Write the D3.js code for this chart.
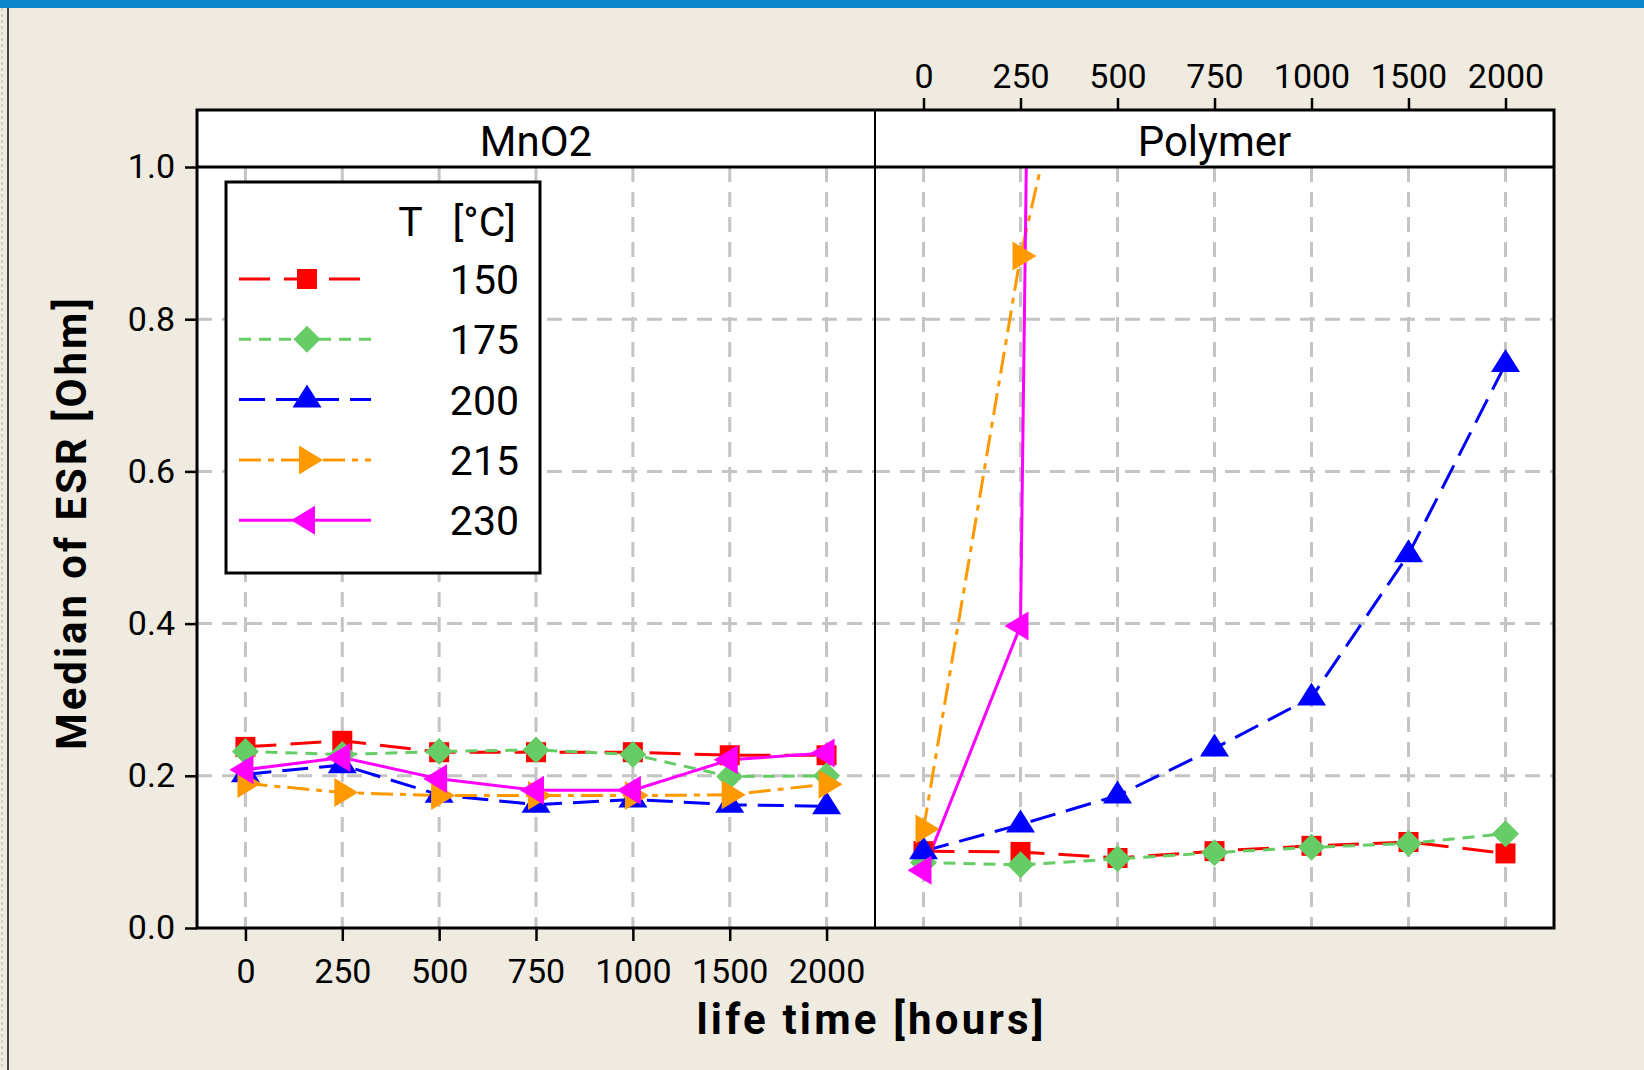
<html>
<head>
<script src="https://cdn.jsdelivr.net/npm/d3@7"></script>
<style>
  body { margin: 0; background: #efebe0; }
  text { font-family: Roboto, "Noto Sans", sans-serif; fill: #000; }
</style>
</head>
<body>
<svg id="chart" width="1644" height="1070"></svg>
<script>
// categories (hours) and temperatures
var hours = ['0', '250', '500', '750', '1000', '1500', '2000'];
var temps = ['150', '175', '200', '215', '230'];
var yTicks = [0, 0.2, 0.4, 0.6, 0.8, 1.0];

// median ESR, MnO2 panel
var mno2_150 = [0.238, 0.246, 0.231, 0.231, 0.231, 0.227, 0.227];
var mno2_175 = [0.232, 0.228, 0.232, 0.234, 0.228, 0.199, 0.200];
var mno2_200 = [0.202, 0.214, 0.175, 0.162, 0.169, 0.162, 0.160];
var mno2_215 = [0.190, 0.178, 0.174, 0.174, 0.174, 0.175, 0.189];
var mno2_230 = [0.208, 0.224, 0.196, 0.181, 0.181, 0.221, 0.230];

// median ESR, Polymer panel (215 / 230 run off the top)
var poly_150 = [0.101, 0.100, 0.092, 0.101, 0.108, 0.113, 0.098];
var poly_175 = [0.086, 0.083, 0.091, 0.099, 0.106, 0.111, 0.124];
var poly_200 = [0.101, 0.136, 0.174, 0.236, 0.303, 0.491, 0.741];
var poly_215 = [0.130, 0.883, 1.44, null, null, null, null];
var poly_230 = [0.076, 0.397, 10.5, null, null, null, null];

var colors = ['#ff0000', '#66cc66', '#0000ff', '#ff9900', '#ff00ff'];
var dashes = ['31,14', '12,8', '26,11', '22,7,6,7', null];

var svg = d3.select('#chart');

// page decoration
svg.append('rect').attr('x', 0).attr('y', 0).attr('width', 1644).attr('height', 1070).attr('fill', '#efebe0');
svg.append('rect').attr('x', 0).attr('y', 0).attr('width', 1644).attr('height', 8).attr('fill', '#0a86cf');
svg.append('line').attr('x1', 8).attr('x2', 8).attr('y1', 8).attr('y2', 1070)
    .attr('stroke', '#444').attr('stroke-width', 2);
svg.append('line').attr('x1', 2).attr('x2', 2).attr('y1', 8).attr('y2', 1070)
    .attr('stroke', '#d4d0c8').attr('stroke-width', 2).attr('stroke-dasharray', '3,3');

var pLeft = 197, pMid = 875, pRight = 1554;
var stripTop = 110, pTop = 167, pBottom = 928;

var y = d3.scaleLinear().domain([0, 1]).range([pBottom, pTop]);
var xMn = d3.scalePoint().domain(hours).range([pLeft, pMid]).padding(0.5);
var xPo = d3.scalePoint().domain(hours).range([pMid, pRight]).padding(0.5);

// white plot background + strips
svg.append('rect').attr('x', pLeft).attr('y', stripTop).attr('width', pRight - pLeft).attr('height', pBottom - stripTop).attr('fill', '#fff');

var panels = [
    { name: 'MnO2', x: xMn, x0: pLeft, x1: pMid, series: [mno2_150, mno2_175, mno2_200, mno2_215, mno2_230] },
    { name: 'Polymer', x: xPo, x0: pMid, x1: pRight, series: [poly_150, poly_175, poly_200, poly_215, poly_230] }
];

// grid
panels.forEach(p => {
    svg.append('g').selectAll('line').data(hours).enter().append('line')
        .attr('x1', d => p.x(d)).attr('x2', d => p.x(d))
        .attr('y1', pTop).attr('y2', pBottom)
        .attr('stroke', '#c4c4c4').attr('stroke-width', 3).attr('stroke-dasharray', '15,10');
    svg.append('g').selectAll('line').data(yTicks.slice(1, 5)).enter().append('line')
        .attr('x1', p.x0).attr('x2', p.x1)
        .attr('y1', d => y(d)).attr('y2', d => y(d))
        .attr('stroke', '#c4c4c4').attr('stroke-width', 3).attr('stroke-dasharray', '15,10');
});

// marker shapes
var shapes = [
    'M-10,-10H10V10H-10Z',
    'M0,-13.5L13.5,0L0,13.5L-13.5,0Z',
    'M0,-15L14.5,8L-14.5,8Z',
    'M16,0L-8,-14.5L-8,14.5Z',
    'M-16,0L8,-14.5L8,14.5Z'
];

panels.forEach((p, pi) => {
    svg.append('clipPath').attr('id', 'clip' + pi).append('rect')
        .attr('x', p.x0).attr('y', pTop).attr('width', p.x1 - p.x0).attr('height', pBottom - pTop);
    var g = svg.append('g').attr('clip-path', 'url(#clip' + pi + ')');
    p.series.forEach((s, si) => {
        var pts = s.map((v, i) => ({ h: hours[i], v: v }));
        var line = d3.line().defined(d => d.v != null).x(d => p.x(d.h)).y(d => y(d.v));
        g.append('path').attr('d', line(pts)).attr('fill', 'none')
            .attr('stroke', colors[si]).attr('stroke-width', 3)
            .attr('stroke-dasharray', dashes[si]);
    });
    p.series.forEach((s, si) => {
        var pts = s.map((v, i) => ({ h: hours[i], v: v })).filter(d => d.v != null && d.v <= 1);
        g.selectAll('.m' + si).data(pts).enter().append('path')
            .attr('transform', d => 'translate(' + p.x(d.h) + ',' + y(d.v) + ')')
            .attr('d', shapes[si]).attr('fill', colors[si]);
    });
});

// frame
svg.append('rect').attr('x', pLeft).attr('y', stripTop).attr('width', pRight - pLeft).attr('height', pBottom - stripTop)
    .attr('fill', 'none').attr('stroke', '#000').attr('stroke-width', 3);
svg.append('line').attr('x1', pLeft).attr('x2', pRight).attr('y1', pTop).attr('y2', pTop).attr('stroke', '#000').attr('stroke-width', 3);
svg.append('line').attr('x1', pMid).attr('x2', pMid).attr('y1', stripTop).attr('y2', pBottom).attr('stroke', '#000').attr('stroke-width', 2);

panels.forEach(p => {
    svg.append('text').attr('x', (p.x0 + p.x1) / 2).attr('y', 156)
        .attr('text-anchor', 'middle').style('font-size', '42px').text(p.name);
});

// axes
var yAxis = svg.append('g').attr('transform', 'translate(' + pLeft + ',0)')
    .call(d3.axisLeft(y).tickValues(yTicks).tickFormat(d3.format('.1f')).tickSize(12).tickPadding(10));
var xAxisB = svg.append('g').attr('transform', 'translate(0,' + pBottom + ')')
    .call(d3.axisBottom(xMn).tickSize(13).tickPadding(18));
var xAxisT = svg.append('g').attr('transform', 'translate(0,' + stripTop + ')')
    .call(d3.axisTop(xPo).tickSize(12).tickPadding(10));
[yAxis, xAxisB, xAxisT].forEach(a => {
    a.select('.domain').remove();
    a.selectAll('line').attr('stroke', '#000').attr('stroke-width', 2.5);
    a.selectAll('text').style('font-size', '34px').attr('font-family', null).attr('fill', '#000');
});

// axis titles
svg.append('text').attr('x', 870).attr('y', 1034).attr('text-anchor', 'middle')
    .style('font-size', '42px').style('font-weight', 'bold')
    .attr('textLength', 347).attr('lengthAdjust', 'spacing').text('life time [hours]');
svg.append('text').attr('transform', 'translate(86,524) rotate(-90)').attr('text-anchor', 'middle')
    .style('font-size', '42px').style('font-weight', 'bold')
    .attr('textLength', 452).attr('lengthAdjust', 'spacing').text('Median of ESR [Ohm]');

// legend
var lg = svg.append('g');
lg.append('rect').attr('x', 226).attr('y', 182).attr('width', 314).attr('height', 391)
    .attr('fill', '#fff').attr('stroke', '#000').attr('stroke-width', 3);
lg.append('text').attr('x', 516).attr('y', 236).attr('text-anchor', 'end')
    .style('font-size', '41px').attr('xml:space', 'preserve').text('T   [°C]');
temps.forEach((t, i) => {
    var ry = 279 + i * 60.3;
    lg.append('line').attr('x1', 239).attr('x2', 371).attr('y1', ry).attr('y2', ry)
        .attr('stroke', colors[i]).attr('stroke-width', 3).attr('stroke-dasharray', dashes[i]);
    lg.append('path').attr('transform', 'translate(307,' + ry + ')').attr('d', shapes[i]).attr('fill', colors[i]);
    lg.append('text').attr('x', 519).attr('y', ry + 15).attr('text-anchor', 'end')
        .style('font-size', '41px').text(t);
});
</script>
</body>
</html>
